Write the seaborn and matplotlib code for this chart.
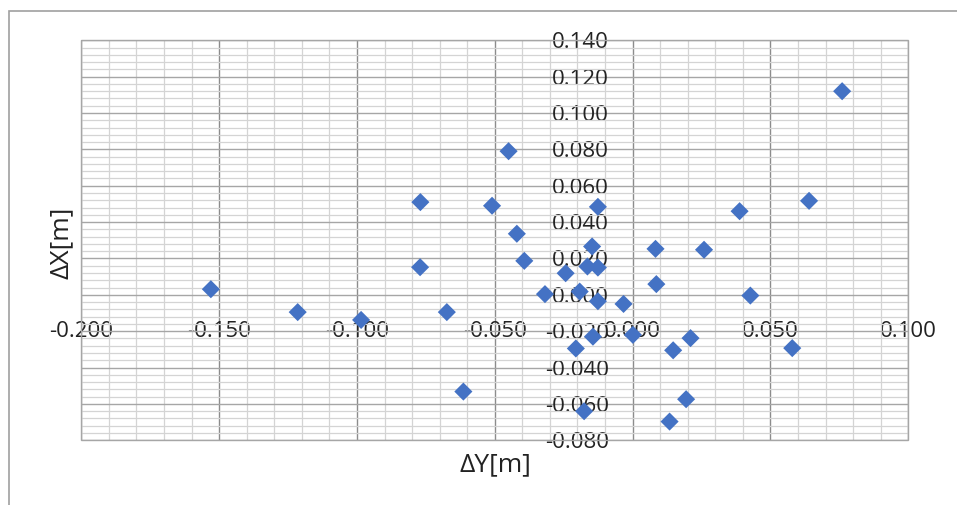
import matplotlib
matplotlib.use('Agg')
import matplotlib.pyplot as plt
from matplotlib.patches import Rectangle
from matplotlib.ticker import MultipleLocator, FormatStrFormatter
import seaborn as sns
import pandas as pd

# 測定点のずれ (ΔY, ΔX) [m]
dy = [0.076, -0.045, -0.077, -0.051, -0.0126, -0.042, 0.064, 0.0388, 0.0083,
      0.0259, -0.0147, -0.0393, -0.0243, -0.0164, -0.0126, 0.0086, -0.0318,
      -0.0192, -0.0126, -0.0033, 0.0001, -0.0144, -0.0206, 0.0147, 0.021,
      0.0427, 0.0579, 0.0194, 0.0134, -0.0176, -0.153, -0.1215, -0.0985,
      -0.0771, -0.0674, -0.0614]
dx = [0.112, 0.079, 0.051, 0.049, 0.0484, 0.0336, 0.0517, 0.046, 0.0253,
      0.0248, 0.0266, 0.0187, 0.0119, 0.0156, 0.015, 0.0059, 0.0004,
      0.0018, -0.0035, -0.005, -0.022, -0.023, -0.0295, -0.0305, -0.0238,
      -0.0004, -0.0293, -0.0574, -0.0697, -0.064, 0.0031, -0.0095, -0.0138,
      0.0152, -0.0095, -0.0532]

x_range = (-0.2, 0.1)
y_range = (-0.08, 0.14)

df = pd.DataFrame({'dY': dy, 'dX': dx})

sns.set_style('white')
plt.rcParams['font.family'] = ['Open Sans', 'DejaVu Sans']
text_color = '#222222'

fig = plt.figure(figsize=(9.57, 5.05), dpi=100)
ax = fig.add_axes([81.3 / 957, 1 - 440.3 / 505, 827 / 957, 400 / 505])

sns.scatterplot(data=df, x='dY', y='dX', marker='D', s=85, color='#4472C4',
                edgecolor='none', ax=ax, zorder=3)

ax.set_xlim(*x_range)
ax.set_ylim(*y_range)
ax.xaxis.set_major_locator(MultipleLocator(0.05))
ax.xaxis.set_minor_locator(MultipleLocator(0.01))
ax.yaxis.set_major_locator(MultipleLocator(0.02))
ax.yaxis.set_minor_locator(MultipleLocator(0.004))
ax.xaxis.set_major_formatter(FormatStrFormatter('%.3f'))
ax.yaxis.set_major_formatter(FormatStrFormatter('%.3f'))

# グリッド
ax.grid(which='minor', color='#d4d4d4', linewidth=0.9)
ax.grid(which='major', axis='x', color='#8c8c8c', linewidth=1.0)
ax.grid(which='major', axis='y', color='#a6a6a6', linewidth=1.0)
ax.set_axisbelow(True)

# 軸は原点で交差
ax.spines['left'].set_position('zero')
ax.spines['bottom'].set_position('zero')
for sp in ax.spines.values():
    sp.set_visible(False)
ax.add_patch(Rectangle((0, 0), 1, 1, transform=ax.transAxes, fill=False,
                       edgecolor='#a6a6a6', linewidth=1.0, zorder=1, clip_on=False))

ax.tick_params(axis='x', which='both', length=0, pad=19, labelsize=16,
               labelcolor=text_color)
ax.tick_params(axis='y', which='both', length=0, pad=17, labelsize=16,
               labelcolor=text_color)

ax.set_xlabel('')
ax.set_ylabel('')
fig.text(495 / 957, 1 - 465 / 505, 'ΔY[m]', ha='center', va='center',
         fontsize=19, color=text_color)
fig.text(61 / 957, 1 - 243 / 505, 'ΔX[m]', ha='center', va='center',
         rotation=90, fontsize=19, color=text_color)

# グラフ外枠
fig.patches.append(Rectangle((9 / 957, -0.05), 1.0, 1 - 11 / 505 + 0.05,
                             transform=fig.transFigure, fill=False,
                             edgecolor='#a0a0a0', linewidth=1.2))

fig.savefig('out.png', dpi=100)
